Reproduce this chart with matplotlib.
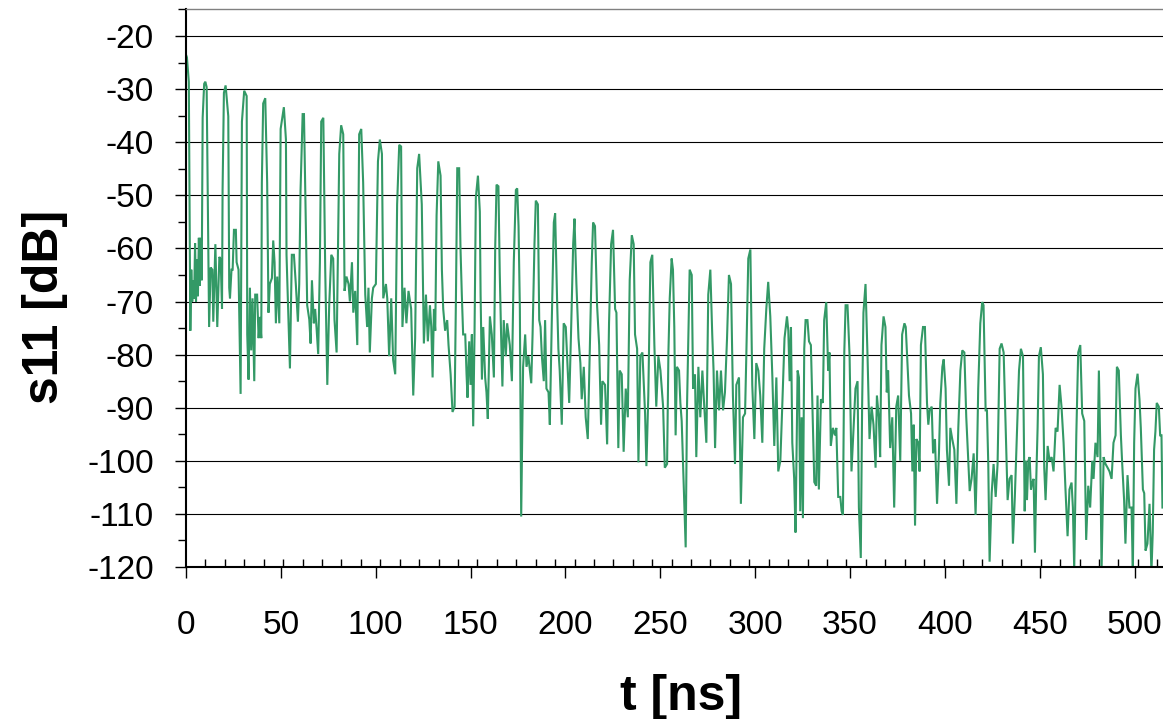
import matplotlib
matplotlib.use('Agg')
import matplotlib.pyplot as plt
from matplotlib.ticker import MultipleLocator

# time axis [ns] and reflection s11 [dB]
t_ns = [
    0, 0.5, 1.5, 2.3, 2.8, 3.3, 3.8, 4.3, 4.8, 5.3, 5.8, 6.3, 6.8, 7.3, 7.8, 8.3,
    8.8, 9.6, 10.2, 10.9, 11.5, 12.2, 13.0, 13.9, 14.4, 15.5, 16.5, 17.6, 18.3, 19.0,
    19.3, 20.0, 20.9, 22.3, 22.8, 23.2, 24.0, 24.6, 25.3, 26.3, 26.7, 27.7, 28.8,
    29.5, 30.7, 32.0, 32.3, 33.0, 33.7, 34.4, 35.1, 36.0, 36.5, 37.5, 38.3, 39.0,
    39.7, 40.0, 40.7, 41.8, 42.8, 43.5, 44.2, 45.3, 46.0, 46.7, 47.4, 48.1, 49.2,
    49.9, 51.6, 52.7, 53.0, 54.8, 55.8, 56.9, 57.9, 59.0, 59.7, 60.4, 61.5,
    62.2, 63.2, 63.9, 65.0, 65.7, 66.4, 67.4, 68.1, 68.8, 69.7, 70.6, 71.3, 72.4,
    73.4, 74.5, 75.5, 76.6, 77.6, 78.3, 79.4, 80.8, 81.8, 82.9, 83.6, 84.6, 85.7,
    86.4, 87.5, 88.2, 89.2, 90.3, 91.3, 92.4, 93.4, 94.5, 95.5, 96.2, 96.9, 98.0,
    98.7, 100.1, 101.2, 102.2, 103.3, 104.0, 105.4, 106.1, 107.1, 108.2, 109.2,
    110.3, 111.3, 112.4, 113.4, 114.1, 115.2, 116.2, 117.3, 118.7, 119.8, 120.8,
    121.9, 122.9, 124.3, 125.4,
    126.5, 127.5, 128.6, 129.3, 130.0, 130.7, 131.4, 132.1, 133.0, 134.2, 134.9,
    135.6, 136.6, 137.7, 138.4, 139.5, 140.5, 141.6, 142.3, 143.0, 144.0, 144.7,
    145.4, 146.1, 147.2, 147.9, 148.4, 149.3, 150.0, 150.7, 151.4, 152.1, 152.8,
    153.9, 154.9, 155.3, 156.0, 156.7, 157.7, 158.4, 159.1, 160.2, 161.2, 162.3,
    163.0, 163.7, 164.7, 165.4, 166.1, 166.8, 167.5, 168.6, 169.3, 170.0, 170.7,
    171.8, 172.8, 173.9, 174.6, 175.3, 176.0, 176.7, 177.7, 178.8, 179.5, 180.5,
    182.0, 182.7, 183.7, 184.4, 185.5, 186.2, 186.9, 187.6,
    188.6, 189.3, 190.0, 191.1, 191.8, 192.8, 193.9, 194.6, 195.6, 196.3, 197.0,
    198.1, 199.1, 200.2, 201.2, 202.0, 203.0, 204.1, 204.8, 205.8, 206.9, 207.9,
    208.6, 209.7, 210.7, 211.8, 212.8, 213.9, 214.6, 215.6, 216.7, 217.8, 218.8,
    219.5, 220.9, 222.0, 223.0, 224.1, 225.1, 226.2, 226.9, 227.9, 228.6, 229.7,
    230.7, 231.8, 232.9, 233.9, 235.0, 236.0, 236.7, 237.8, 238.5, 239.5, 240.6,
    242.0, 242.7, 243.7, 244.8, 245.8, 246.9, 247.9, 249.0, 250.1, 251.5, 252.4,
    253.6, 254.3, 255.0, 256.0, 256.7, 257.4, 258.1, 258.8, 259.9, 260.6, 261.3,
    262.3, 263.4, 264.1, 264.8, 265.5, 266.6, 267.3, 268.3, 269.0, 270.1, 271.1,
    272.2, 273.2, 274.3, 275.3, 276.4, 277.4, 278.1, 278.9, 279.9, 281.0, 282.0,
    283.1, 284.1, 285.2, 286.2, 287.3, 288.3, 289.4, 290.1, 291.5, 292.5, 293.6,
    294.7, 295.4, 296.4, 297.5, 298.5, 299.6, 300.6, 301.7, 302.7, 303.8, 304.8,
    305.9, 306.9, 308.0, 309.1, 310.1, 311.2, 312.2, 313.3, 314.3, 315.5,
    316.8, 317.5, 318.2, 318.9, 319.6, 320.6, 321.3, 322.4, 323.1, 323.8, 324.5,
    325.2, 325.9, 326.6, 327.6, 328.4, 329.4, 330.5, 331.2, 332.2, 332.9, 333.6,
    334.7, 335.7, 336.4, 337.5, 338.5, 339.2, 339.9, 341.0, 342.1, 342.8, 343.8,
    344.9, 345.6, 346.3, 347.0, 347.7, 348.7, 349.8, 350.8, 351.9, 352.9, 354.0,
    354.7, 355.7, 356.4, 357.1, 358.2, 359.3, 360.3, 361.4, 362.4, 363.5, 364.2,
    365.2, 365.9, 366.6, 367.7, 368.7, 369.4, 370.1, 371.2, 372.3, 373.3, 374.4,
    375.4, 376.5, 377.5, 378.7,
    379.4, 380.1, 381.1, 382.2, 382.9, 383.6, 384.3, 385.0, 386.0, 386.7, 387.4,
    388.5, 389.5, 390.6, 391.3, 392.0, 393.1, 393.8, 394.8, 395.9, 396.9, 397.6,
    398.7, 399.4, 400.4, 401.1, 402.2, 402.9, 403.9, 405.0, 406.1, 407.1, 408.2,
    409.2, 410.3, 411.3, 412.0, 413.1, 414.1, 415.2, 416.2, 416.9, 417.6, 418.7,
    419.7, 420.4, 421.5, 422.2, 422.9, 423.6, 424.7, 425.7, 426.8, 427.8, 428.9,
    429.9, 431.0, 432.0, 433.1, 434.1, 435.2, 435.9, 436.9, 438.0, 439.1, 440.1,
    441.2, 442.1,
    442.6, 443.3, 444.0, 444.7, 445.4, 446.1, 446.8, 447.5, 448.2, 448.9, 449.6,
    450.6, 451.7, 452.4, 453.1, 454.2, 455.2, 456.3, 457.3, 458.4, 459.4, 460.5,
    461.5, 462.6, 463.6, 464.7, 465.7, 466.8, 467.5, 468.2, 469.3, 470.3, 471.4,
    472.4, 473.5, 474.5, 475.6, 476.6, 477.7, 478.4, 479.4, 480.5, 481.2, 481.9,
    482.6, 483.7, 484.7, 485.8, 486.8, 487.9, 488.9, 490.0, 490.7, 491.7, 492.8,
    493.5, 494.5, 495.2, 496.3, 497.3, 498.4, 499.1, 499.8, 500.5, 501.6, 502.6,
    503.3, 504.4, 505.1, 505.8, 506.8, 507.9, 508.9, 509.6, 510.3, 511.0, 511.7,
    512.8, 513.5, 514.2, 514.7,
]

s11_db = [
    -23.5, -24, -28.6, -75.5, -64, -70, -66, -69.5, -59, -70, -62, -69, -58, -67, -58, -66,
    -35.4, -29, -28.6, -29.6, -50, -74.8, -63.6, -64, -73.8, -59.2, -74.8, -61.6, -62, -71.4,
    -49, -30.7, -29.3, -35.1, -67.4, -69.4, -64, -64, -56.5, -56.5, -62.6, -64, -87.4,
    -36.1, -30.3, -31.3, -76.2, -84.7, -67.4, -79.2, -69.4, -85, -68.7, -68.7, -76.9, -72.9,
    -76.9, -47.6, -32.7, -31.7, -47.6, -72.1, -66.7, -65.6, -58.5, -62.6, -74.1, -65.3, -74.1,
    -37.5, -33.4, -39.5, -61.2, -82.6, -61.2, -61.2, -66.7, -73.8, -66.7, -49, -34.7,
    -34.7, -55.8, -70.7, -73.4, -77.9, -66, -74.1, -71.4, -74.8, -79.9, -62.6, -36.1, -35.4,
    -64, -85.7, -70.7, -61.2, -61.9, -73.5, -79.6, -42.2, -36.8, -38.5, -68, -65.3, -66.7,
    -70, -62.6, -72.1, -68, -78.2, -38.5, -37.5, -47.6, -68.7, -74.8, -67.4, -79.6, -69.4,
    -67.4, -66.7, -43.6, -39.5, -42.2, -69.4, -66.7, -69.4, -80.3, -69.4, -81,
    -83.7, -51.7, -40.5, -40.8, -74.8, -67.4, -74.1, -68, -71.4, -87.7, -76.9,
    -44.9, -42.2, -51.7, -77.9,
    -68.7, -77.5, -70.7, -74.8, -84.3, -71.4, -75.5, -53.8, -43.6, -46.3, -64,
    -71.4, -75.5, -73.5, -78.2, -83.7, -90.8, -89.8, -69.4, -44.9, -44.9, -59.9,
    -68.7, -76.2, -76.2, -83.7, -88.1, -77.5, -85.7, -76.2, -93.5, -76.2, -50.4,
    -46.3, -53.1, -68.7, -84.7, -74.8, -84.3, -87.1, -92.1, -72.8, -76.2, -84.3,
    -59.9, -48, -48.3, -64.6, -76.2, -86, -73.5, -80.3, -74.1, -76.2, -78.2,
    -85, -62.6, -49, -48.7, -55.8, -71.4, -110.5, -82.3, -76.2, -82.3, -80.3,
    -85.4, -76.2, -59.2, -51, -51.7, -73.5, -74.8, -80.3,
    -85, -73.5, -86.4, -87.1, -93.2, -74.1, -55.1, -53.4, -69.4, -78.9, -83,
    -93.2, -74.1, -74.8, -83, -89.1, -75.5, -59.2, -54.4, -66.7, -76.9, -81.6,
    -88.4, -82.3, -91.8, -95.9, -79.6, -62.6, -55.1, -55.8, -70.7, -78.2, -93.2,
    -85, -85.7, -96.9, -74.1, -59.2, -56.5, -71.4, -72.1, -97.6, -83, -83.7,
    -98.3, -86.4, -91.8, -66, -57.5, -59.2, -76.2, -78.9, -100.3, -80.3, -79.6,
    -91.1, -101, -87.7, -62.6, -61.2, -78.2, -89.8, -80.3, -83, -89.8, -101.3,
    -100.6, -79.6, -69.4, -61.9, -64, -74.8, -95.2, -82.3, -83, -89.1, -92.5,
    -104, -116.3, -89.8, -76.5, -64, -65, -86.4, -83.7, -99.3, -82.3, -91.8,
    -83, -89.8, -96.6, -68.7, -64, -76.2, -83, -97.6, -83, -90.5, -83,
    -90.5, -87.1, -76.9, -65, -66.7, -87.7, -100.6, -85.7, -84.3, -108.1, -91.8,
    -91.1, -79.6, -61.9, -60.2, -85.7, -95.9, -81.6, -83, -87.7, -96.6, -78.9,
    -71.4, -66.3, -72.8, -84.3, -97.2, -84.3, -102, -100, -89.8, -76.9,
    -72.8, -75.5, -85, -74.8, -96.6, -103.4, -113.5, -83, -84.3, -109.5, -91.8,
    -110.8, -78.9, -73.5, -73.5, -77.5, -78.2, -93.8, -104, -104.7, -87.7, -105.4,
    -88.4, -89.1, -73.5, -70.1, -83, -79.6, -97.2, -93.8, -95.2, -93.8, -106.8,
    -106.8, -109.5, -110.2, -79.6, -70.7, -70.7, -80.3, -102, -93.8, -86.4, -85,
    -108.8, -118.3, -89.8, -72.1, -66.7, -80.9, -95.9, -89.8, -93.2, -101.3, -87.7,
    -91.8, -99.3, -78.2, -72.8, -74.8, -87.1, -83, -97.6, -91.8, -108.8, -89.8,
    -87.7, -100, -76.2, -74.1,
    -74.8, -80.3, -87.7, -91.1, -102, -93.2, -112.2, -95.9, -96.6, -102, -78.2,
    -74.8, -74.8, -89.1, -93.2, -90.5, -89.8, -98.6, -95.9, -108.1, -98.6, -89.1,
    -82.3, -80.9, -86.4, -97.9, -104.7, -93.8, -95.9, -97.9, -108.1, -93.8, -83,
    -79.2, -79.6, -91.8, -97.2, -105.7, -103.4, -98.6, -110.2, -100.6, -86.4, -74.1,
    -70.1, -70.7, -90.5, -90.5, -100.6, -119, -106.1, -100.6, -106.8, -100.6, -78.9,
    -77.9, -79.6, -93.2, -107.4, -103.4, -102.7, -115.6, -106.8, -95.2, -83, -78.9,
    -80.3, -109.5,
    -100, -107.4, -100, -99.3, -105.4, -104.1, -103.4, -117.3, -103.4, -93.8, -80.3,
    -78.6, -83.7, -101.3, -107.4, -97.2, -100, -99.3, -102, -93.8, -94.5, -85.7,
    -89.8, -96.6, -105.4, -114.2, -105.4, -104.1, -108.8, -120.5, -95.2, -79.6, -78.2,
    -91.1, -92.5, -114.9, -104.7, -108.8, -100, -103.4, -96.6, -99.3, -83, -96.6,
    -121, -99.3, -100.6, -101.3, -102, -103.4, -96.6, -95.2, -82.3, -83, -95.2,
    -100.6, -107.4, -115.6, -102.7, -108.8, -108.8, -121, -96.6, -86.4, -83.6, -88.4,
    -93.8, -105.4, -106.1, -116.9, -115.6, -108.1, -121, -113.5, -97.9, -94.5, -89.1,
    -89.8, -95.2, -95.2, -108.8,
]

x_ticks = [0, 50, 100, 150, 200, 250, 300, 350, 400, 450, 500]
y_ticks = [-20, -30, -40, -50, -60, -70, -80, -90, -100, -110, -120]

plt.rcParams['font.family'] = ['Liberation Sans', 'DejaVu Sans']
plt.rcParams['axes.unicode_minus'] = False

fig = plt.figure(figsize=(11.63, 7.19), dpi=100)
ax = fig.add_axes([0.1599, 0.2114, 0.8401, 0.7754])

ax.plot(t_ns, s11_db, color='#339966', lw=1.5, solid_joinstyle='miter')

ax.set_xlim(0, 515)
ax.set_ylim(-120, -15)
ax.set_xticks(x_ticks)
ax.set_yticks(y_ticks)
ax.xaxis.set_minor_locator(MultipleLocator(10.24))
ax.yaxis.set_minor_locator(MultipleLocator(5))

ax.grid(axis='y', which='major', color='black', lw=0.8)
ax.set_axisbelow(True)

ax.tick_params(axis='both', which='major', labelsize=24, color='black')
ax.tick_params(axis='y', which='major', direction='out', length=8, width=1, pad=15)
ax.tick_params(axis='y', which='minor', direction='out', length=6, width=1)
ax.tick_params(axis='x', which='major', direction='out', length=8, width=1, pad=23)
ax.tick_params(axis='x', which='minor', direction='in', length=6, width=1)

ax.spines['left'].set_linewidth(1.5)
ax.spines['bottom'].set_linewidth(1.5)
ax.spines['top'].set_color('#808080')
ax.spines['top'].set_linewidth(1)
ax.spines['right'].set_visible(False)

fig.text(0.0387, 0.573, 's11 [dB]', rotation=90, fontsize=36, fontweight='bold',
         ha='center', va='center')
fig.text(0.5856, 0.031, 't [ns]', fontsize=36, fontweight='bold',
         ha='center', va='center')

fig.savefig('out.png', dpi=100)
